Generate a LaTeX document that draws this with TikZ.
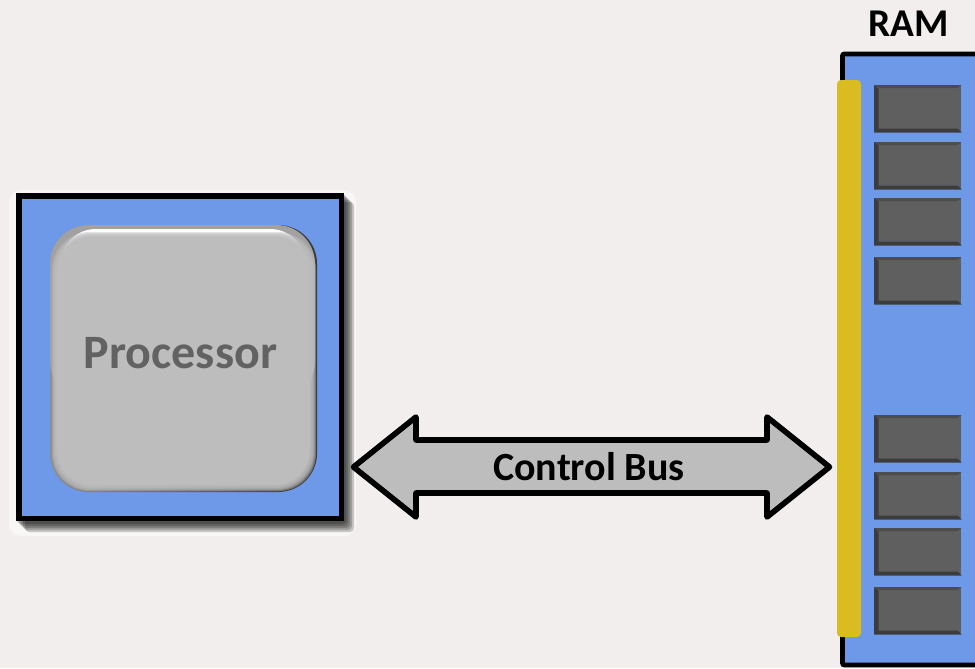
\documentclass[tikz,border=0pt]{standalone}
\usepackage{fontspec}
\setmainfont{Carlito}
\usetikzlibrary{positioning}
\definecolor{wandfarbe}{HTML}{F1EEED}
\definecolor{blaufarbe}{HTML}{6E98E8}
\definecolor{goldfarbe}{HTML}{D9BD20}
\definecolor{grauflaeche}{HTML}{BDBDBD}
\definecolor{grautext}{HTML}{626262}
\definecolor{chipflaeche}{HTML}{5F5F5F}
\definecolor{chipkante}{HTML}{3C3C3C}
\tikzset{
    kastenlinie/.style={draw=black, line width=4.2pt, line join=miter},
    beschriftung/.style={font=\bfseries\fontsize{30}{30}\selectfont, inner sep=0pt},
}
\begin{document}
\begin{tikzpicture}[x=0.75pt, y=-0.75pt]
        \fill[wandfarbe] (0,0) rectangle (975,668);
        \useasboundingbox (0,0) rectangle (975,668);

        % Prozessor: Halo und Schatten
        \fill[white, opacity=.55, rounded corners=9] (9,190) rectangle (356,536);
        \foreach \versatz in {9,7,...,1}
            \fill[black, opacity=.2, rounded corners=3] (16+\versatz,193+\versatz) rectangle (345+\versatz,523+\versatz);
        \node[kastenlinie, fill=blaufarbe, minimum size=242pt, inner sep=0pt, anchor=north west] (gehaeuse) at (16,193) {};

        % Prozessor: Kern mit Kanten
        \path[left color=black!25!grauflaeche, right color=black!70!grauflaeche, rounded corners=29] (50,225) rectangle (317,492);
        \fill[black!15!grauflaeche, rounded corners=29] (50,225) rectangle (315,400);
        \fill[white, rounded corners=27] (60,229) rectangle (306,400);
        \foreach \rand in {0,...,4}
            \fill[grauflaeche, opacity=.42, rounded corners=28] (52+\rand,232+\rand) rectangle (316-\rand,491-\rand);
        \fill[grauflaeche, rounded corners=26] (57,237) rectangle (310,485);
        \node[font=\bfseries\fontsize{36}{36}\selectfont, text=grautext, inner sep=0pt] (prozessor) at (180.5,353) {Processor};

        % Bus
        \draw[fill=grauflaeche, line width=4.2pt, line join=round] (353.5,467) -- (416,417) -- (416,440) -- (767,440) -- (767,417) -- (829.5,467) -- (767,517) -- (767,493) -- (416,493) -- (416,517) -- cycle;
        \node[beschriftung] (bus) at (589,467) {Control Bus};

        % Speicherriegel
        \draw[fill=blaufarbe, line width=3.6pt, rounded corners=1.5] (985,54) -- (842.5,54) -- (842.5,665) -- (985,665);
        \fill[goldfarbe, rounded corners=3] (837,80) rectangle (861,637);
        \node[beschriftung, font=\bfseries\fontsize{29.5}{29.5}\selectfont] (ram) at (909,24) {RAM};

        % Chips
        \foreach \chipname/\chipoben in {a/85, b/142, c/198, d/257, e/415, f/472, g/528, h/587}
        {
            \node[fill=chipflaeche, minimum width=65.25pt, minimum height=35.25pt, inner sep=0pt, anchor=north west] (chip\chipname) at (874,\chipoben) {};
            \fill[chipkante] (chip\chipname.north west) -- (chip\chipname.south west) -- (chip\chipname.south east) -- ++(-4,-4) -- ++(-79,0) -- ++(0,-40) -- cycle;
            \fill[black!20!chipflaeche] (chip\chipname.north west) -- (chip\chipname.north east) -- ++(-4,3) -- ++(-79,0) -- cycle;
        }
\end{tikzpicture}
\end{document}
